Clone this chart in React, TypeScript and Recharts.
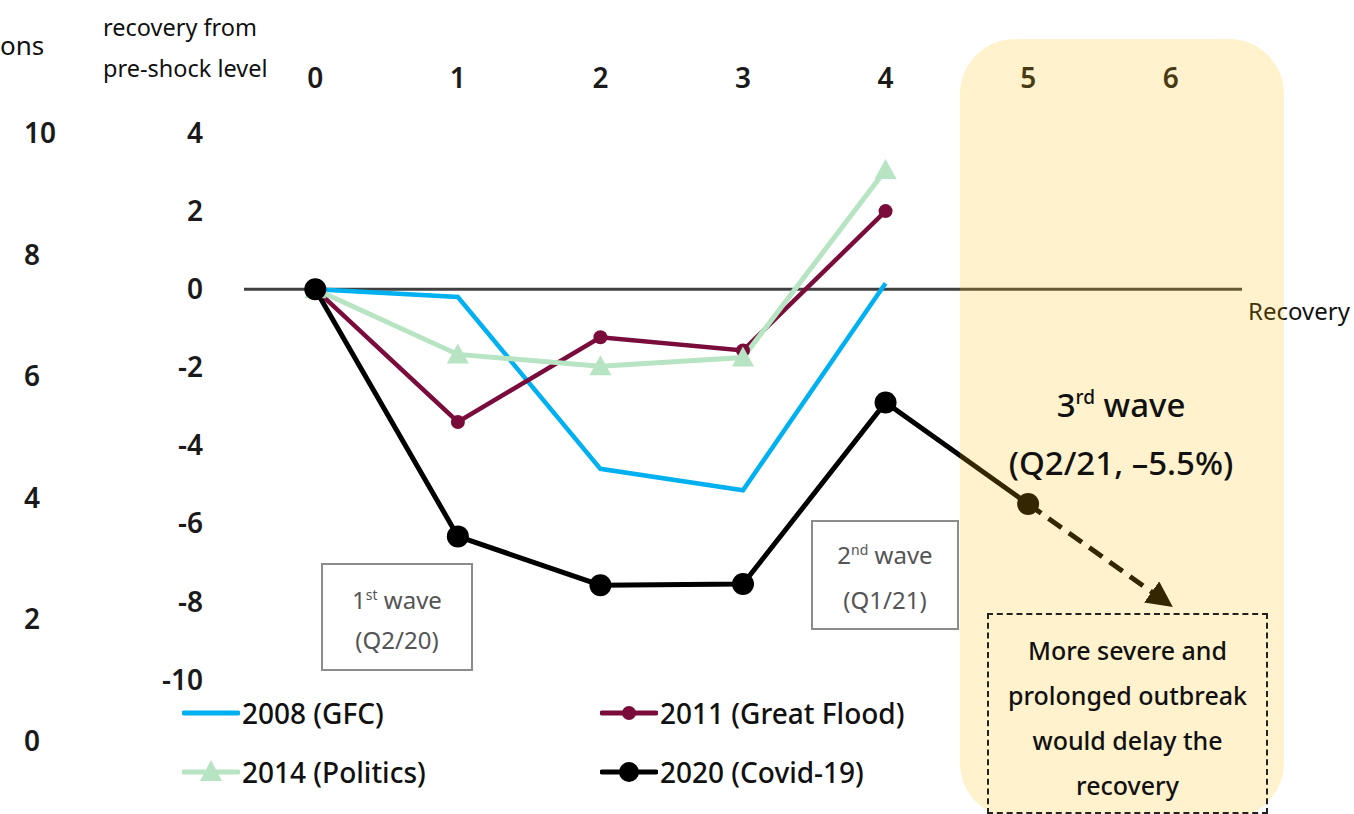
import React from 'react';
import { LineChart, Line, XAxis, YAxis, ReferenceLine, Legend } from 'recharts';

// quarters after the shock
const steps = [0, 1, 2, 3, 4, 5, 6];
// % recovery from pre-shock level
const gfc = [0, -0.2, -4.6, -5.15, 0.15];
const flood = [0, -3.4, -1.23, -1.57, 2.0];
const politics = [0, -1.67, -1.97, -1.75, 3.05];
const covid = [0, -6.33, -7.58, -7.55, -2.9, -5.5];
// projected path after the 3rd wave
const outlookSteps = [5, 6];
const outlook = [-5.5, -8.1];

const mainTicks = [4, 2, 0, -2, -4, -6, -8, -10];
const leftTicks = [10, 8, 6, 4, 2, 0];

const data = steps.map((s, i) => ({
  step: s,
  gfc: gfc[i],
  flood: flood[i],
  politics: politics[i],
  covid: covid[i],
  outlook: outlookSteps.indexOf(s) >= 0 ? outlook[outlookSteps.indexOf(s)] : undefined,
}));

const FONT = '"Noto Sans", sans-serif';
const C_GFC = '#00B0F0';
const C_FLOOD = '#7A0C3C';
const C_POL = '#B7E4C2';
const C_COVID = '#000000';

const TopTick = (props: any) => (
  <text x={props.x} y={props.y - 43} textAnchor="middle" fontSize={28} fontWeight={600} fill="#1a1a1a" fontFamily={FONT}>
    {props.payload.value}
  </text>
);

const MainTick = (props: any) => (
  <text x={203} y={props.y + 10} textAnchor="end" fontSize={28} fontWeight={600} fill="#1a1a1a" fontFamily={FONT}>
    {props.payload.value}
  </text>
);

const LeftTick = (props: any) => (
  <text x={24} y={props.y + 10} textAnchor="start" fontSize={28} fontWeight={600} fill="#1a1a1a" fontFamily={FONT}>
    {props.payload.value}
  </text>
);

const Triangle = (props: any) => {
  const { cx, cy, index } = props;
  if (cx == null || cy == null) return <g key={index} />;
  return <polygon key={index} points={`${cx},${cy - 11} ${cx + 11},${cy + 9} ${cx - 11},${cy + 9}`} fill={C_POL} />;
};

const legendItems = [
  { label: '2008 (GFC)', color: C_GFC, mark: 'none' },
  { label: '2011 (Great Flood)', color: C_FLOOD, mark: 'small' },
  { label: '2014 (Politics)', color: C_POL, mark: 'tri' },
  { label: '2020 (Covid-19)', color: C_COVID, mark: 'big' },
];

const renderLegend = () => (
  <div style={{ display: 'grid', gridTemplateColumns: '418px 340px', rowGap: 19, fontFamily: FONT }}>
    {legendItems.map((it) => (
      <div key={it.label} style={{ display: 'flex', alignItems: 'center', height: 40 }}>
        <svg width={58} height={30} style={{ marginRight: 2 }}>
          <line x1={2} y1={15} x2={56} y2={15} stroke={it.color} strokeWidth={5} strokeLinecap="round" />
          {it.mark === 'small' && <circle cx={29} cy={15} r={7} fill={it.color} />}
          {it.mark === 'big' && <circle cx={29} cy={15} r={10} fill={it.color} />}
          {it.mark === 'tri' && <polygon points="29,3 40,24 18,24" fill={it.color} />}
        </svg>
        <span style={{ fontSize: 28, fontWeight: 500, color: '#111' }}>{it.label}</span>
      </div>
    ))}
  </div>
);

const abs = (left: number, top: number, extra: React.CSSProperties = {}): React.CSSProperties => ({
  position: 'absolute',
  left,
  top,
  fontFamily: FONT,
  whiteSpace: 'nowrap',
  ...extra,
});

const App = () => {
  return (
    <div style={{ position: 'absolute', left: 0, top: 0, width: 1354, height: 814, overflow: 'hidden', background: '#fff' }}>
      <LineChart width={1354} height={814} data={data} margin={{ top: 73, right: 112, bottom: 73, left: 0 }}>
        <defs>
          <marker id="arrowHead" viewBox="0 0 10 10" refX={9} refY={5} markerUnits="userSpaceOnUse" markerWidth={26} markerHeight={26} orient="auto">
            <path d="M0,0 L10,5 L0,10 z" fill="#000" />
          </marker>
        </defs>
        <XAxis
          dataKey="step"
          type="number"
          orientation="top"
          height={60}
          domain={[-0.5, 6.5]}
          ticks={steps}
          axisLine={false}
          tickLine={false}
          tickSize={0}
          tick={<TopTick />}
        />
        <YAxis
          yAxisId="main"
          width={144}
          domain={[-11.57, 4]}
          ticks={mainTicks}
          allowDataOverflow
          axisLine={false}
          tickLine={false}
          tickSize={0}
          tick={<MainTick />}
        />
        <YAxis
          yAxisId="left"
          width={100}
          domain={[0, 10]}
          ticks={leftTicks}
          allowDataOverflow
          axisLine={false}
          tickLine={false}
          tickSize={0}
          tick={<LeftTick />}
        />
        <ReferenceLine yAxisId="main" y={0} stroke="#404040" strokeWidth={3} />
        <Line yAxisId="main" dataKey="gfc" stroke={C_GFC} strokeWidth={4.5} dot={false} isAnimationActive={false} />
        <Line
          yAxisId="main"
          dataKey="flood"
          stroke={C_FLOOD}
          strokeWidth={4.5}
          dot={{ r: 7, fill: C_FLOOD, stroke: C_FLOOD, strokeWidth: 0 }}
          isAnimationActive={false}
        />
        <Line yAxisId="main" dataKey="politics" stroke={C_POL} strokeWidth={5} dot={<Triangle />} isAnimationActive={false} />
        <Line
          yAxisId="main"
          dataKey="outlook"
          stroke="#000"
          strokeWidth={5}
          strokeDasharray="16 9"
          dot={false}
          markerEnd="url(#arrowHead)"
          isAnimationActive={false}
        />
        <Line
          yAxisId="main"
          dataKey="covid"
          stroke={C_COVID}
          strokeWidth={5}
          dot={{ r: 11, fill: C_COVID, stroke: C_COVID, strokeWidth: 0 }}
          isAnimationActive={false}
        />
        <Legend
          layout="horizontal"
          verticalAlign="middle"
          align="center"
          content={renderLegend}
          wrapperStyle={{ position: 'absolute', left: 182, top: 693, width: 760, bottom: 'auto' }}
        />
      </LineChart>

      <div style={abs(0, 28, { fontSize: 26, lineHeight: '34px', color: '#111' })}>ons</div>
      <div style={abs(103, 12, { fontSize: 23.5, lineHeight: '30px', color: '#111' })}>recovery from</div>
      <div style={abs(103, 53, { fontSize: 23.5, lineHeight: '30px', color: '#111' })}>pre-shock level</div>
      <div style={abs(1248, 295, { fontSize: 24, lineHeight: '32px', color: '#111' })}>Recovery</div>

      <div
        style={abs(321, 563, {
          width: 152,
          height: 108,
          boxSizing: 'border-box',
          border: '2px solid #8c8c8c',
          paddingTop: 15,
          textAlign: 'center',
          fontSize: 24,
          lineHeight: '40px',
          color: '#555',
          background: '#fff',
        })}
      >
        <div>
          1<sup style={{ fontSize: 14, verticalAlign: 9, lineHeight: 0 }}>st</sup> wave
        </div>
        <div>(Q2/20)</div>
      </div>

      <div
        style={abs(811, 520, {
          width: 148,
          height: 110,
          boxSizing: 'border-box',
          border: '2px solid #8c8c8c',
          paddingTop: 10,
          textAlign: 'center',
          fontSize: 24,
          lineHeight: '45px',
          color: '#555',
          background: '#fff',
        })}
      >
        <div>
          2<sup style={{ fontSize: 14, verticalAlign: 9, lineHeight: 0 }}>nd</sup> wave
        </div>
        <div>(Q1/21)</div>
      </div>

      <div style={abs(960, 39, { width: 324, height: 779, borderRadius: 55, background: 'rgba(255,192,0,0.2)' })} />

      <div style={abs(971, 376, { width: 300, textAlign: 'center', fontSize: 33, fontWeight: 500, lineHeight: '58px', color: '#111' })}>
        <div>
          3<sup style={{ fontSize: 19, verticalAlign: 13, lineHeight: 0 }}>rd</sup> wave
        </div>
        <div>(Q2/21, –5.5%)</div>
      </div>

      <div
        style={abs(987, 613, {
          width: 281,
          height: 201,
          boxSizing: 'border-box',
          border: '2px dashed #222',
          paddingTop: 13,
          textAlign: 'center',
          fontSize: 25,
          fontWeight: 500,
          lineHeight: '45px',
          color: '#111',
        })}
      >
        <div>More severe and</div>
        <div>prolonged outbreak</div>
        <div>would delay the</div>
        <div>recovery</div>
      </div>
    </div>
  );
};

export default App;
